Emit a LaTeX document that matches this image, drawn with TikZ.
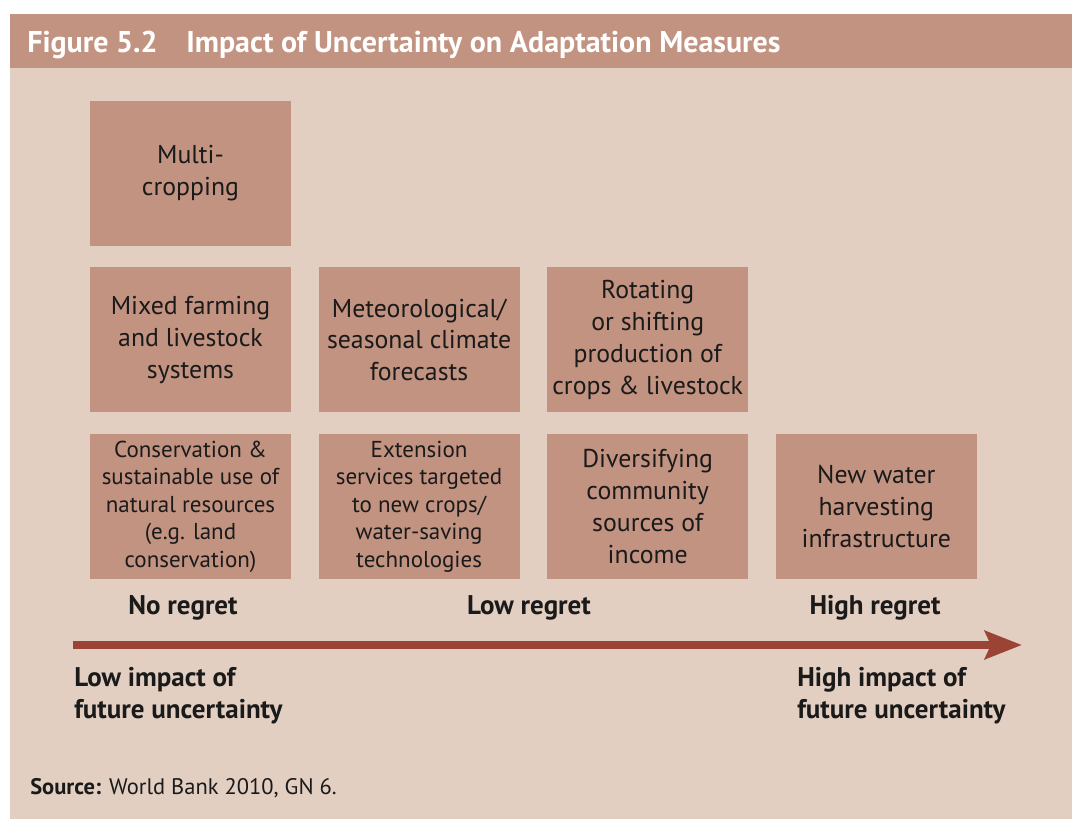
\documentclass[tikz,border=0pt]{standalone}
\usepackage{fontspec}
\setmainfont{PT Sans}
\usepackage{tikz}
\usetikzlibrary{arrows.meta,positioning}
\definecolor{band}{HTML}{C29381}
\definecolor{panel}{HTML}{E2CFC1}
\definecolor{arrowred}{HTML}{9B4335}
\definecolor{ink}{HTML}{1A1A1A}

\begin{document}
\begin{tikzpicture}[x=1pt,y=-1pt,semithick]
\tikzstyle{box}=[rectangle,fill=band,minimum width=201pt,minimum height=145pt,inner sep=0pt,align=center,text=ink,font=\fontsize{25.8}{31.7}\selectfont]
\tikzstyle{small box}=[box,font=\fontsize{23}{27.5}\selectfont]
\tikzstyle{regret}=[inner sep=0pt,anchor=base,text=ink,font=\bfseries\fontsize{27}{32}\selectfont]
\tikzstyle{impact}=[inner sep=0pt,anchor=base west,align=left,text=ink,font=\bfseries\fontsize{27}{32}\selectfont]
\useasboundingbox (0,0) rectangle (1072,819);
\fill[panel] (10,14) rectangle (1072,819);
\fill[band] (10,14) rectangle (1072,68);
\node[anchor=base west,inner sep=0pt,text=white,font=\bfseries\fontsize{30}{32}\selectfont] (fig) at (27,52) {Figure 5.2};
\node[anchor=base west,inner sep=0pt,text=white,font=\bfseries\fontsize{30}{32}\selectfont] (title) at (186,52) {Impact of Uncertainty on Adaptation Measures};
% columns of measures
\node[small box] (c1) at (190.5,506.5) {Conservation \&\\sustainable use of\\natural resources\\(e.g. land\\conservation)};
\node[small box] (c2) [right=27pt of c1] {Extension\\services targeted\\to new crops/\\water-saving\\technologies};
\node[box] (c3) [right=27pt of c2] {Diversifying\\community\\sources of\\income};
\node[box] (c4) [right=27pt of c3] {New water\\harvesting\\infrastructure};
\node[box] (b1) [above=21pt of c1] {Mixed farming\\and livestock\\systems};
\node[box] (b2) [above=21pt of c2] {Meteorological/\\seasonal climate\\forecasts};
\node[box] (b3) [above=21pt of c3] {Rotating\\or shifting\\production of\\crops \& livestock};
\node[box] (a1) [above=21pt of b1] {Multi-\\cropping};
% regret scale
\node[regret] (none) at (183,614) {No regret};
\node[regret] (low) at (529,614) {Low regret};
\node[regret] (high) at (875,614) {High regret};
\coordinate (from) at (73,645);
\coordinate (to) at (1022,645);
\draw[arrowred,line width=8pt,-{Stealth[length=37pt,width=28pt,inset=6pt]}] (from) -- (to);
\node[impact] (lowimp) at (74,718) {Low impact of\\future uncertainty};
\node[impact] (highimp) at (797,718) {High impact of\\future uncertainty};
\node[anchor=base west,inner sep=0pt,text=ink,font=\fontsize{22.5}{24}\selectfont] (src) at (30,794) {\textbf{Source:} World Bank 2010, GN 6.};
\end{tikzpicture}
\end{document}
